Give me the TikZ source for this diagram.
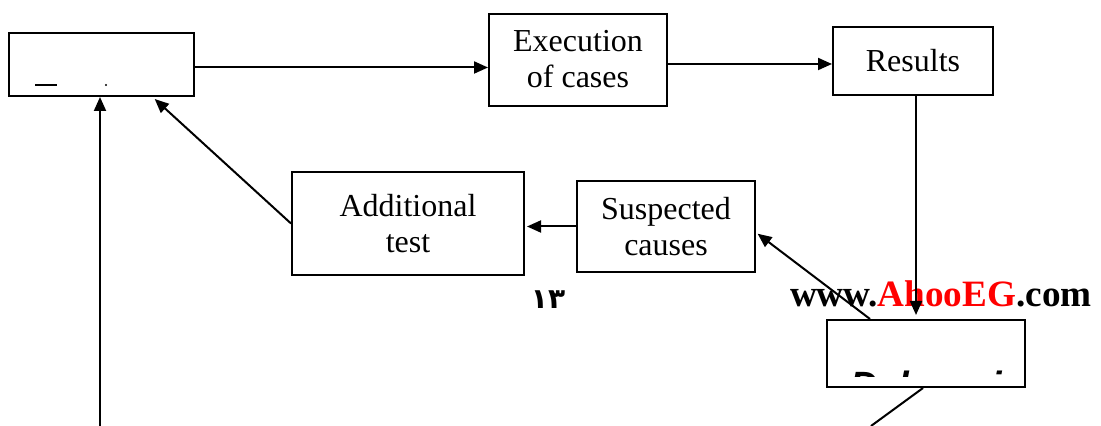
\documentclass[tikz,border=0pt]{standalone}
\usepackage{fontspec}
\setmainfont{Liberation Serif}
\newfontfamily\boldsans{Liberation Sans}
\newfontfamily\arabicfont[Script=Arabic]{DejaVu Sans}
\usetikzlibrary{positioning, arrows.meta}

\begin{document}
\begin{tikzpicture}[x=0.5pt, y=-0.5pt, line width=1pt,
    box/.style={draw, line width=1pt, inner sep=0pt, align=center, font=\fontsize{16}{18}\selectfont},
    arr/.style={-{Triangle[length=7pt, width=6pt]}}]
  \useasboundingbox (0,0) rectangle (1101,426);

  % boxes of the loop
  \node[box, minimum width=92.5pt, minimum height=31.5pt] (tl) at (101.5,64.5) {};
  \node[box, minimum width=89pt, minimum height=46pt, text depth=1.5pt] (exec) at (578,60) {Execution\\of cases};
  \node[box, minimum width=80pt, minimum height=34pt] (res) at (913,61) {Results};
  \node[box, minimum width=116pt, minimum height=51.5pt] (add) at (408,223.5) {Additional\\test};
  \node[box, minimum width=89pt, minimum height=45.5pt] (susp) at (666,226.5) {Suspected\\causes};
  \node[box, minimum width=99pt, minimum height=33.5pt] (dbg) at (926,353.5) {};

  % cut-off label pieces
  \draw (35,85) -- (57,85);
  \fill (106,85) circle (0.6pt);
  \begin{scope}
    \clip (827,320) rectangle (1025,377);
    \node[anchor=base west, inner sep=0pt, font=\boldsans\bfseries\itshape\fontsize{19}{22}\selectfont] (dbgtxt) at (849,399) {Debugging};
  \end{scope}

  % page number and site
  \node[anchor=base, inner sep=0pt, font=\arabicfont\bfseries\fontsize{14}{17}\selectfont] (pg) at (548,309) {١٣};
  \node[anchor=base west, inner sep=0pt, font=\bfseries\fontsize{18.6}{20}\selectfont] (site) at (789,307) {www.\textcolor{red}{AhooEG}.com};

  % connectors
  \draw[arr] ([yshift=-1.5pt]tl.east) -- ([yshift=-1.5pt]tl.east -| exec.west);
  \draw[arr] ([yshift=-2pt]exec.east) -- ([yshift=-2pt]exec.east -| res.west);
  \draw[arr, shorten >=2pt] ([xshift=1.5pt]res.south) -- ([xshift=1.5pt]res.south |- dbg.north);
  \draw[arr, shorten >=1pt] ([xshift=-28pt]dbg.north) -- ([yshift=-3pt]susp.east);
  \draw[arr, shorten >=1pt] (susp.west) -- (susp.west -| add.east);
  \draw[arr, shorten >=1.5pt] (add.west) -- ([xshift=25.5pt]tl.south);
  \coordinate (foot) at (100,426);
  \draw[arr] (foot) -- (foot |- tl.south);
  \coordinate (tail) at (871,426);
  \draw ([xshift=-1.5pt]dbg.south) -- (tail);
\end{tikzpicture}
\end{document}
